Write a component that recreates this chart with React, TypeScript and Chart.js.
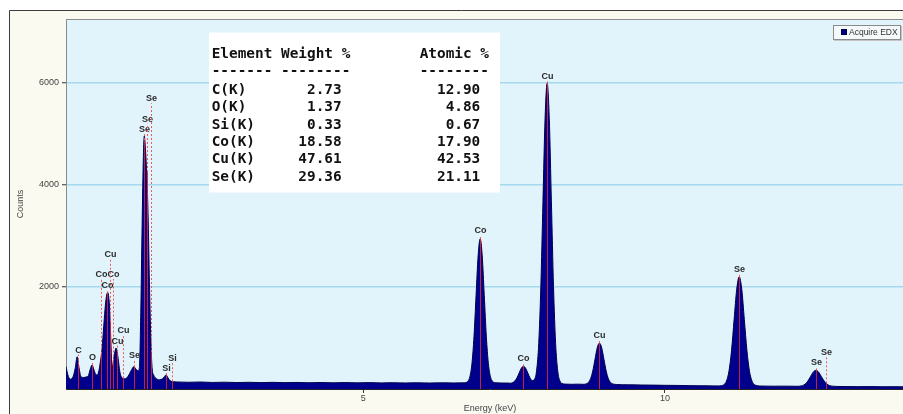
import React, { useEffect, useRef } from 'react';
import { Chart, registerables } from 'chart.js';

Chart.register(...registerables);

const seriesLabel = 'Acquire EDX';

// Spectrum samples: energy (keV) and counts, grouped by region
const energyKeV: number[] = [
  // low-energy L/K lines (C, O, Co L, Cu L, Se L, Si)
  0.07, 0.10, 0.14, 0.19, 0.225, 0.255, 0.285, 0.32, 0.365, 0.40,
  0.44, 0.475, 0.502, 0.53, 0.56, 0.58, 0.61, 0.64, 0.668, 0.697,
  0.723, 0.745, 0.763, 0.778, 0.79, 0.812, 0.834, 0.862, 0.90, 0.934,
  0.962, 1.0, 1.05, 1.10, 1.15, 1.194, 1.235, 1.265, 1.287, 1.31,
  1.332, 1.353, 1.368, 1.387, 1.41, 1.43, 1.453, 1.476, 1.497, 1.525,
  1.56, 1.62, 1.67, 1.70, 1.73, 1.76, 1.80, 1.86,
  // continuum
  1.9, 2.1, 2.3, 2.5, 2.7, 2.9, 3.1, 3.3, 3.5, 3.7,
  3.9, 4.1, 4.3, 4.5, 4.7, 4.9, 5.1, 5.3, 5.5, 5.7,
  5.9, 6.1, 6.3, 6.5, 6.67,
  // Co K-alpha
  6.733, 6.767, 6.801, 6.835, 6.869, 6.903, 6.937, 6.971, 7.005, 7.039,
  7.073, 7.107, 7.141, 7.2, 7.3, 7.38,
  // Co K-beta
  7.44, 7.475, 7.511, 7.547, 7.583, 7.619, 7.655, 7.691, 7.727, 7.763,
  // Cu K-alpha
  7.799, 7.838, 7.873, 7.908, 7.943, 7.978, 8.013, 8.048, 8.083, 8.118,
  8.153, 8.188, 8.223, 8.258, 8.293, 8.35, 8.45, 8.55,
  // Cu K-beta
  8.65, 8.693, 8.73, 8.767, 8.804, 8.841, 8.878, 8.915, 8.952, 8.989,
  9.026, 9.063, 9.1, 9.137, 9.2,
  // continuum
  9.4, 9.6, 9.8, 10.0, 10.2, 10.4, 10.6, 10.8, 10.9,
  // Se K-alpha
  10.935, 10.977, 11.02, 11.062, 11.105, 11.147, 11.19, 11.232, 11.275, 11.317,
  11.36, 11.402, 11.445, 11.487, 11.53, 11.6, 11.8, 12.0,
  // Se K-beta
  12.2, 12.234, 12.279, 12.324, 12.369, 12.414, 12.459, 12.504, 12.549, 12.594,
  12.639, 12.684, 12.729, 12.774, 12.85,
  // tail
  13.0, 13.2, 13.4, 13.6, 13.8, 14.0, 14.13,
];

const counts: number[] = [
  440, 280, 190, 250, 420, 630, 420, 240, 225, 235,
  260, 400, 470, 390, 290, 275, 330, 530, 790, 1250,
  1640, 1840, 1890, 1800, 1640, 990, 405, 600, 800, 600,
  340, 215, 200, 250, 360, 436, 380, 355, 420, 1500,
  3200, 4550, 4950, 4700, 4150, 3450, 2100, 1000, 420, 270,
  210, 180, 200, 240, 275, 220, 160, 140,
  138, 132, 137, 128, 133, 126, 131, 125, 130, 124,
  128, 122, 127, 121, 126, 120, 125, 119, 123, 118,
  122, 117, 121, 118, 120,
  151, 244, 501, 1034, 1828, 2605, 2936, 2605, 1828, 1034,
  501, 244, 151, 122, 118, 116,
  114, 125, 155, 219, 313, 406, 445, 406, 313, 219,
  165, 190, 365, 891, 2006, 3664, 5289, 5980, 5289, 3664,
  2006, 891, 353, 160, 108, 96, 92, 95,
  92, 99, 126, 200, 353, 581, 805, 900, 805, 581,
  353, 200, 126, 99, 88,
  82, 78, 76, 72, 70, 66, 63, 61, 60,
  65, 84, 154, 349, 754, 1356, 1945, 2196, 1945, 1356,
  754, 349, 154, 84, 65, 58, 55, 56,
  53, 56, 66, 95, 154, 243, 330, 365, 330, 243,
  160, 100, 68, 56, 50,
  48, 46, 47, 44, 45, 43, 44,
];

// Identified element lines: symbol, energy (keV), label height (counts)
const lineElements = ['C', 'O', 'Co', 'Co', 'Co', 'Cu', 'Cu', 'Cu', 'Se', 'Se', 'Se', 'Se', 'Si', 'Si', 'Co', 'Co', 'Cu', 'Cu', 'Se', 'Se', 'Se'];
const lineEnergyKeV = [0.275, 0.502, 0.657, 0.757, 0.856, 0.801, 0.912, 1.012, 1.199, 1.365, 1.406, 1.486, 1.730, 1.824, 6.937, 7.655, 8.048, 8.915, 11.232, 12.504, 12.675];
const lineLabelCounts = [762, 612, 2242, 2033, 2242, 2639, 938, 1140, 651, 5077, 5279, 5679, 405, 600, 3095, 600, 6110, 1042, 2340, 514, 717];

// Quantification results
const tableElements = ['C(K)', 'O(K)', 'Si(K)', 'Co(K)', 'Cu(K)', 'Se(K)'];
const weightPct = [2.73, 1.37, 0.33, 18.58, 47.61, 29.36];
const atomicPct = [12.9, 4.86, 0.67, 17.9, 42.53, 21.11];

// Axes
const xRange = [0.07, 14.13];
const yRange = [0, 7240];
const xTickValues = [5, 10];
const yTickValues = [2000, 4000, 6000];

const FILL = '#00008c';
const SMALL_FONT = '"Liberation Sans", Arial, sans-serif';

function spectrumAt(e: number): number {
  for (let i = 1; i < energyKeV.length; i++) {
    if (energyKeV[i] >= e) {
      const e0 = energyKeV[i - 1];
      const e1 = energyKeV[i];
      const t = (e - e0) / (e1 - e0);
      return counts[i - 1] + t * (counts[i] - counts[i - 1]);
    }
  }
  return counts[counts.length - 1];
}

const backdrop = {
  id: 'backdrop',
  beforeDraw(chart: any) {
    const { ctx, chartArea, width, height } = chart;
    ctx.save();
    ctx.fillStyle = '#ffffff';
    ctx.fillRect(0, 0, width, height);
    ctx.fillStyle = '#fafaf1';
    ctx.fillRect(9, 10, width - 9, height - 10);
    ctx.strokeStyle = '#3c3c3c';
    ctx.lineWidth = 1;
    ctx.beginPath();
    ctx.moveTo(9.5, height);
    ctx.lineTo(9.5, 10.5);
    ctx.lineTo(width, 10.5);
    ctx.stroke();
    ctx.fillStyle = '#e1f3fb';
    ctx.fillRect(chartArea.left, chartArea.top, chartArea.right - chartArea.left, chartArea.bottom - chartArea.top);
    ctx.strokeStyle = '#8c8c8c';
    ctx.beginPath();
    ctx.moveTo(chartArea.left, chartArea.top + 0.5);
    ctx.lineTo(chartArea.right, chartArea.top + 0.5);
    ctx.stroke();
    ctx.restore();
  },
};

const elementLines = {
  id: 'elementLines',
  afterDatasetsDraw(chart: any) {
    const { ctx, chartArea, scales } = chart;
    const xs = scales.x;
    const ys = scales.y;
    ctx.save();
    ctx.beginPath();
    ctx.rect(chartArea.left, chartArea.top, chartArea.right - chartArea.left, chartArea.bottom - chartArea.top);
    ctx.clip();
    ctx.lineWidth = 1;
    lineElements.forEach((sym, i) => {
      const e = lineEnergyKeV[i];
      const px = Math.round(xs.getPixelForValue(e)) + 0.5;
      const yBase = ys.getPixelForValue(0);
      const ySpec = ys.getPixelForValue(spectrumAt(e));
      const yLab = ys.getPixelForValue(lineLabelCounts[i]);
      const yEnd = yLab + 4.5;
      ctx.setLineDash([]);
      ctx.strokeStyle = 'rgba(214, 36, 60, 0.9)';
      ctx.beginPath();
      ctx.moveTo(px, yBase);
      ctx.lineTo(px, Math.max(ySpec, yEnd));
      ctx.stroke();
      if (yEnd < ySpec) {
        ctx.setLineDash([2, 2]);
        ctx.strokeStyle = '#f25a5a';
        ctx.beginPath();
        ctx.moveTo(px, ySpec);
        ctx.lineTo(px, yEnd);
        ctx.stroke();
      }
      ctx.setLineDash([]);
      ctx.fillStyle = '#2b2b2b';
      ctx.font = `bold 9px ${SMALL_FONT}`;
      ctx.textAlign = 'center';
      ctx.textBaseline = 'middle';
      ctx.fillText(sym, px, yLab);
    });
    ctx.restore();
  },
};

const overlays = {
  id: 'overlays',
  afterDraw(chart: any) {
    const { ctx } = chart;
    ctx.save();

    // quantification table
    ctx.fillStyle = '#ffffff';
    ctx.fillRect(209, 32.5, 291, 160);
    ctx.fillStyle = '#111111';
    ctx.font = 'bold 14.4px "DejaVu Sans Mono", monospace';
    ctx.textAlign = 'left';
    ctx.textBaseline = 'middle';
    const tx = 211.7;
    ctx.fillText('Element Weight %' + ' '.repeat(8) + 'Atomic %', tx, 54.3);
    ctx.fillText('------- --------' + ' '.repeat(8) + '--------', tx, 71.7);
    tableElements.forEach((name, i) => {
      const row = name.padEnd(7) + weightPct[i].toFixed(2).padStart(8) + atomicPct[i].toFixed(2).padStart(16);
      ctx.fillText(row, tx, 90 + i * 17.4);
    });

    // legend
    const ds = chart.data.datasets[0];
    ctx.fillStyle = '#f6f9fb';
    ctx.fillRect(833.5, 25.5, 67, 14);
    ctx.strokeStyle = '#8a8a8a';
    ctx.lineWidth = 1;
    ctx.strokeRect(833.5, 25.5, 67, 14);
    ctx.strokeStyle = '#c4c4c4';
    ctx.beginPath();
    ctx.moveTo(834, 40.5);
    ctx.lineTo(901.5, 40.5);
    ctx.lineTo(901.5, 26);
    ctx.stroke();
    ctx.fillStyle = ds.backgroundColor;
    ctx.fillRect(841.5, 29.5, 5, 5);
    ctx.strokeStyle = '#000040';
    ctx.strokeRect(841.5, 29.5, 5, 5);
    ctx.fillStyle = '#333333';
    ctx.font = `8.5px ${SMALL_FONT}`;
    ctx.textAlign = 'left';
    ctx.textBaseline = 'middle';
    ctx.fillText(ds.label, 849, 32.8);

    ctx.restore();
  },
};

export default function App() {
  const canvasRef = useRef<HTMLCanvasElement | null>(null);

  useEffect(() => {
    const canvas = canvasRef.current;
    if (!canvas) return;
    const tickFont = { family: SMALL_FONT, size: 9 };
    const chart = new Chart(canvas, {
      type: 'line',
      data: {
        datasets: [
          {
            label: seriesLabel,
            data: energyKeV.map((e, i) => ({ x: e, y: counts[i] })),
            borderColor: '#00004e',
            borderWidth: 1,
            backgroundColor: FILL,
            fill: 'origin',
            pointRadius: 0,
            cubicInterpolationMode: 'monotone',
          },
        ],
      },
      options: {
        responsive: false,
        animation: false,
        events: [],
        layout: { padding: { left: 0, right: 0, top: 19, bottom: 0 } },
        plugins: {
          legend: { display: false },
          tooltip: { enabled: false },
        },
        scales: {
          x: {
            type: 'linear',
            min: xRange[0],
            max: xRange[1],
            afterBuildTicks: (s: any) => {
              s.ticks = xTickValues.map((v) => ({ value: v }));
            },
            afterFit: (s: any) => {
              s.height = 25;
            },
            grid: { drawOnChartArea: false, drawTicks: true, tickLength: 4, tickColor: '#333333', tickWidth: 1 },
            border: { display: true, color: '#222222', width: 1 },
            ticks: { padding: 0, color: '#444444', font: tickFont, maxRotation: 0, callback: (v: any) => String(v) },
            title: { display: true, text: 'Energy (keV)', color: '#444444', font: tickFont, padding: { top: 0, bottom: 0 } },
          },
          y: {
            type: 'linear',
            min: yRange[0],
            max: yRange[1],
            afterBuildTicks: (s: any) => {
              s.ticks = yTickValues.map((v) => ({ value: v }));
            },
            afterFit: (s: any) => {
              s.width = 66;
            },
            grid: { color: '#a6d9ef', lineWidth: 1.5, drawTicks: true, tickLength: 4, tickColor: '#333333', tickWidth: 1 },
            border: { display: true, color: '#8a8a8a', width: 1 },
            ticks: { padding: 3, color: '#444444', font: tickFont, callback: (v: any) => String(v) },
            title: { display: true, text: 'Counts', color: '#444444', font: tickFont, padding: { top: 15, bottom: 0 } },
          },
        },
      },
      plugins: [backdrop, elementLines, overlays],
    } as any);
    return () => chart.destroy();
  }, []);

  return (
    <div style={{ position: 'fixed', left: 0, top: 0, width: 903, height: 414, overflow: 'hidden', background: '#ffffff' }}>
      <canvas ref={canvasRef} width={914} height={414} style={{ display: 'block' }} />
    </div>
  );
}
